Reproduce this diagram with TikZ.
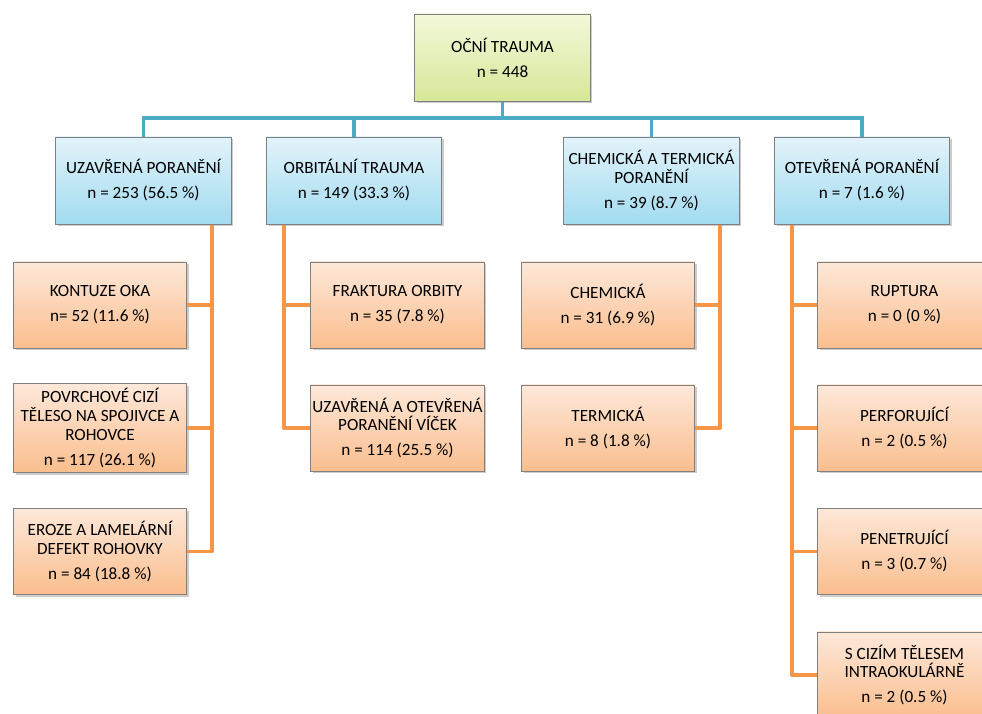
\documentclass[tikz,border=0pt]{standalone}
\usepackage{fontspec}
\setmainfont{Carlito}
\usetikzlibrary{shadows}

\definecolor{boxgray}{RGB}{128,128,128}
\definecolor{greentop}{RGB}{243,248,218}
\definecolor{greenbot}{RGB}{214,231,152}
\definecolor{bluetop}{RGB}{226,243,250}
\definecolor{bluebot}{RGB}{162,219,240}
\definecolor{orangetop}{RGB}{253,232,217}
\definecolor{orangebot}{RGB}{250,190,142}
\definecolor{blueline}{RGB}{75,172,198}
\definecolor{orangeline}{RGB}{247,150,70}

\tikzset{
    box/.style={draw=boxgray, line width=0.7pt, align=center, inner xsep=0.5pt,
        font=\fontsize{12.2}{13.3}\selectfont,
        drop shadow={shadow xshift=1.6pt, shadow yshift=-1.6pt, opacity=0.4}},
    rootbox/.style={box, top color=greentop, bottom color=greenbot,
        minimum width=4.375cm, minimum height=2.175cm},
    groupbox/.style={box, top color=bluetop, bottom color=bluebot,
        minimum width=4.375cm, minimum height=2.175cm},
    itembox/.style={box, top color=orangetop, bottom color=orangebot,
        minimum width=4.325cm, minimum height=2.15cm},
    bluelink/.style={draw=blueline, line width=2.8pt},
    orangelink/.style={draw=orangeline, line width=2.8pt, line join=round},
}

\begin{document}
\begin{tikzpicture}[x=0.025cm, y=-0.025cm]
        \clip (0,0) rectangle (982,713);
        % root and groups
        \node[rootbox] (trauma) at (502.5,57.5) {OČNÍ TRAUMA\\[4.5pt] n = 448};
        \node[groupbox] (uzavrena) at (143.5,180.5) {UZAVŘENÁ PORANĚNÍ\\[4.5pt] n = 253 (56.5 \%)};
        \node[groupbox] (orbitalni) at (354,180.5) {ORBITÁLNÍ TRAUMA\\[4.5pt] n = 149 (33.3 \%)};
        \node[groupbox] (chemterm) at (651.5,180.5) {CHEMICKÁ A TERMICKÁ\\PORANĚNÍ\\[4.5pt] n = 39 (8.7 \%)};
        \node[groupbox] (otevrena) at (862,180.5) {OTEVŘENÁ PORANĚNÍ\\[4.5pt] n = 7 (1.6 \%)};
        % items
        \node[itembox] (kontuze) at (100,305) {KONTUZE OKA\\[4.5pt] n= 52 (11.6 \%)};
        \node[itembox] (povrchove) at (100,428) {POVRCHOVÉ CIZÍ\\TĚLESO NA SPOJIVCE A\\ROHOVCE\\[4.5pt] n = 117 (26.1 \%)};
        \node[itembox] (eroze) at (100,551.5) {EROZE A LAMELÁRNÍ\\DEFEKT ROHOVKY\\[4.5pt] n = 84 (18.8 \%)};
        \node[itembox] (fraktura) at (397.5,305) {FRAKTURA ORBITY\\[4.5pt] n = 35 (7.8 \%)};
        \node[itembox] (vicka) at (397.5,428) {UZAVŘENÁ A OTEVŘENÁ\\PORANĚNÍ VÍČEK\\[4.5pt] n = 114 (25.5 \%)};
        \node[itembox] (chemicka) at (608,305) {CHEMICKÁ\\[4.5pt] n = 31 (6.9 \%)};
        \node[itembox] (termicka) at (608,428) {TERMICKÁ\\[4.5pt] n = 8 (1.8 \%)};
        \node[itembox] (ruptura) at (904.5,305) {RUPTURA\\[4.5pt] n = 0 (0 \%)};
        \node[itembox] (perforujici) at (904.5,428) {PERFORUJÍCÍ\\[4.5pt] n = 2 (0.5 \%)};
        \node[itembox] (penetrujici) at (904.5,551.5) {PENETRUJÍCÍ\\[4.5pt] n = 3 (0.7 \%)};
        \node[itembox] (cizi) at (904.5,675) {S CIZÍM TĚLESEM\\INTRAOKULÁRNĚ\\[4.5pt] n = 2 (0.5 \%)};
        % helper coordinates
        \coordinate (bus) at (0,118);
        \coordinate (spineA) at (212,0);
        \coordinate (spineB) at (284,0);
        \coordinate (spineC) at (720,0);
        \coordinate (spineD) at (792,0);
        % blue connectors
        \draw[bluelink] (trauma.south) -- (trauma.south |- bus);
        \draw[bluelink] (uzavrena.north) -- (uzavrena.north |- bus) -- (otevrena.north |- bus) -- (otevrena.north);
        \foreach \g in {orbitalni,chemterm} {
            \draw[bluelink] (\g.north) -- (\g.north |- bus);
        };
        % orange connectors
        \draw[orangelink] (uzavrena.south -| spineA) -- (eroze.east -| spineA) -- (eroze.east);
        \draw[orangelink] (orbitalni.south -| spineB) -- (vicka.west -| spineB) -- (vicka.west);
        \draw[orangelink] (chemterm.south -| spineC) -- (termicka.east -| spineC) -- (termicka.east);
        \draw[orangelink] (otevrena.south -| spineD) -- (cizi.west -| spineD) -- (cizi.west);
        \foreach \c/\s in {kontuze/spineA,povrchove/spineA,chemicka/spineC} {
            \draw[orangelink] (\c.east) -- (\c.east -| \s);
        };
        \foreach \c/\s in {fraktura/spineB,ruptura/spineD,perforujici/spineD,penetrujici/spineD} {
            \draw[orangelink] (\c.west) -- (\c.west -| \s);
        };
    \end{tikzpicture}
\end{document}
